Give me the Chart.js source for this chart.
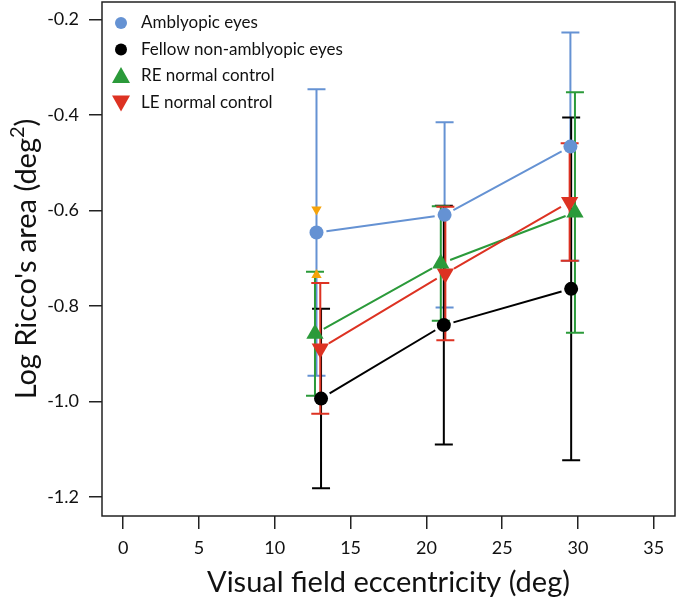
<!DOCTYPE html>
<html>
<head>
<meta charset="utf-8">
<script src="https://cdn.jsdelivr.net/npm/chart.js@4.4.1/dist/chart.umd.min.js"></script>
<style>
  html, body { margin: 0; padding: 0; background: #fff; overflow: hidden; }
  #page { width: 685px; height: 604px; position: relative; overflow: hidden; }
  #wrap { width: 685px; height: 612px; position: absolute; left: 0; top: -8px; }
</style>
</head>
<body>
<div id="page"><div id="wrap"><canvas id="ricco"></canvas></div></div>
<script>
// values
const xTicks = [0, 5, 10, 15, 20, 25, 30, 35];
const yTicks = [-1.2, -1.0, -0.8, -0.6, -0.4, -0.2];

const amblyX = [12.75, 21.2, 29.5];
const amblyY = [-0.646, -0.609, -0.466];
const amblyErr = [0.300, 0.194, 0.239];

const fellowX = [13.05, 21.15, 29.55];
const fellowY = [-0.994, -0.840, -0.764];
const fellowErr = [0.188, 0.250, 0.359];

const reX = [12.65, 20.95, 29.8];
const reY = [-0.858, -0.711, -0.604];
const reErr = [0.130, 0.120, 0.252];

const leX = [13.0, 21.25, 29.45];
const leY = [-0.889, -0.732, -0.582];
const leErr = [0.137, 0.140, 0.123];

// the two small orange markers on the amblyopic bar at 13 deg
const orangeX = [12.75, 12.75];
const orangeY = [-0.598, -0.735];

const FONT = 'Lato, "Open Sans", sans-serif';
const BLUE = '#6592d3', GREEN = '#2b9a3a', RED = '#dd3222', ORANGE = '#f5a30a';

const pts = (xs, ys) => xs.map((x, i) => ({ x: x, y: ys[i] }));

const series = [
  { label: 'Amblyopic eyes', x: amblyX, y: amblyY, err: amblyErr, color: BLUE, style: 'circle', r: 7, rot: 0 },
  { label: 'Fellow non-amblyopic eyes', x: fellowX, y: fellowY, err: fellowErr, color: '#000', style: 'circle', r: 7, rot: 0 },
  { label: 'RE normal control', x: reX, y: reY, err: reErr, color: GREEN, style: 'triangle', r: 10, rot: 0 },
  { label: 'LE normal control', x: leX, y: leY, err: leErr, color: RED, style: 'triangle', r: 10, rot: 180 }
];

// error bars plus R-style "b" lines that stop short of each point
const errorBars = {
  id: 'errorBars',
  beforeDatasetsDraw(chart) {
    const { ctx, scales: { x, y } } = chart;
    ctx.save();
    ctx.lineWidth = 2;
    series.forEach(s => {
      ctx.strokeStyle = s.color;
      const px = s.x.map(v => x.getPixelForValue(v));
      const py = s.y.map(v => y.getPixelForValue(v));
      ctx.beginPath();
      for (let i = 0; i < px.length - 1; i++) {
        const dx = px[i + 1] - px[i], dy = py[i + 1] - py[i];
        const len = Math.hypot(dx, dy), gap = 10;
        const ux = dx / len, uy = dy / len;
        ctx.moveTo(px[i] + ux * gap, py[i] + uy * gap);
        ctx.lineTo(px[i + 1] - ux * gap, py[i + 1] - uy * gap);
      }
      s.x.forEach((xv, i) => {
        const top = y.getPixelForValue(s.y[i] + s.err[i]);
        const bot = y.getPixelForValue(s.y[i] - s.err[i]);
        ctx.moveTo(px[i], top); ctx.lineTo(px[i], bot);
        ctx.moveTo(px[i] - 9, top); ctx.lineTo(px[i] + 9, top);
        ctx.moveTo(px[i] - 9, bot); ctx.lineTo(px[i] + 9, bot);
      });
      ctx.stroke();
    });
    ctx.restore();
  }
};

const frame = {
  id: 'frame',
  afterDraw(chart) {
    const { ctx, chartArea: a } = chart;
    ctx.save();
    ctx.strokeStyle = '#222';
    ctx.lineWidth = 1.5;
    ctx.strokeRect(a.left, a.top, a.right - a.left, a.bottom - a.top);

    // legend inside the plot
    ctx.font = '17px ' + FONT;
    ctx.textBaseline = 'middle';
    ctx.textAlign = 'left';
    series.forEach((s, i) => {
      const cy = a.top + 21 + i * 26.5;
      const cx = a.left + 19;
      ctx.fillStyle = s.color;
      ctx.beginPath();
      if (s.style === 'circle') {
        ctx.arc(cx, cy, 6, 0, Math.PI * 2);
      } else if (s.rot === 0) {
        ctx.moveTo(cx, cy - 9); ctx.lineTo(cx + 9, cy + 7); ctx.lineTo(cx - 9, cy + 7);
      } else {
        ctx.moveTo(cx, cy + 9); ctx.lineTo(cx + 9, cy - 7); ctx.lineTo(cx - 9, cy - 7);
      }
      ctx.fill();
      ctx.fillStyle = '#111';
      ctx.fillText(s.label, cx + 20, cy);
    });

    // axis titles
    ctx.fillStyle = '#111';
    ctx.font = '29px ' + FONT;
    ctx.textAlign = 'center';
    ctx.textBaseline = 'alphabetic';
    ctx.fillText('Visual field eccentricity (deg)', (a.left + a.right) / 2, a.bottom + 76);

    ctx.translate(36, (a.top + a.bottom) / 2);
    ctx.rotate(-Math.PI / 2);
    const main = "Log Ricco's area (deg";
    ctx.font = '29px ' + FONT;
    const w1 = ctx.measureText(main).width;
    ctx.font = '20px ' + FONT;
    const w2 = ctx.measureText('2').width;
    ctx.font = '29px ' + FONT;
    const w3 = ctx.measureText(')').width;
    let sx = -(w1 + w2 + w3) / 2;
    ctx.textAlign = 'left';
    ctx.fillText(main, sx, 0);
    ctx.font = '20px ' + FONT;
    ctx.fillText('2', sx + w1, -12);
    ctx.font = '29px ' + FONT;
    ctx.fillText(')', sx + w1 + w2, 0);
    ctx.restore();
  }
};

const datasets = series.map(s => ({
  label: s.label,
  data: pts(s.x, s.y),
  showLine: false,
  borderColor: s.color,
  backgroundColor: s.color,
  pointBackgroundColor: s.color,
  pointBorderWidth: 0,
  pointStyle: s.style,
  pointRadius: s.r,
  pointRotation: s.rot,
  pointHoverRadius: s.r
}));
datasets.push({
  label: 'orange',
  data: pts(orangeX, orangeY),
  showLine: false,
  backgroundColor: ORANGE,
  pointBackgroundColor: ORANGE,
  pointBorderWidth: 0,
  pointStyle: 'triangle',
  pointRadius: 6,
  pointRotation: [180, 0]
});

new Chart(document.getElementById('ricco'), {
  type: 'scatter',
  data: { datasets: datasets },
  options: {
    responsive: true,
    maintainAspectRatio: false,
    animation: false,
    layout: { padding: { top: 0, right: 7, left: 0, bottom: 0 } },
    plugins: { legend: { display: false }, tooltip: { enabled: false } },
    scales: {
      x: {
        type: 'linear',
        min: -1.4,
        max: 36.4,
        afterBuildTicks: sc => { sc.ticks = xTicks.map(v => ({ value: v })); },
        afterFit: sc => { sc.height = 88; sc.paddingLeft = 0; sc.paddingRight = 0; },
        border: { display: false },
        grid: { drawOnChartArea: false, drawTicks: true, tickLength: 13, color: '#222', lineWidth: 1.5 },
        ticks: { color: '#111', font: { family: FONT, size: 18 }, padding: 8, maxRotation: 0, autoSkip: false }
      },
      y: {
        type: 'linear',
        min: -1.24,
        max: -0.163,
        afterBuildTicks: sc => { sc.ticks = yTicks.map(v => ({ value: v })); },
        afterFit: sc => { sc.width = 102; sc.paddingTop = 0; sc.paddingBottom = 0; },
        border: { display: false },
        grid: { drawOnChartArea: false, drawTicks: true, tickLength: 13, color: '#222', lineWidth: 1.5 },
        ticks: { color: '#111', font: { family: FONT, size: 18 }, padding: 10, autoSkip: false,
                 callback: v => v.toFixed(1) }
      }
    }
  },
  plugins: [errorBars, frame]
});
</script>
</body>
</html>
